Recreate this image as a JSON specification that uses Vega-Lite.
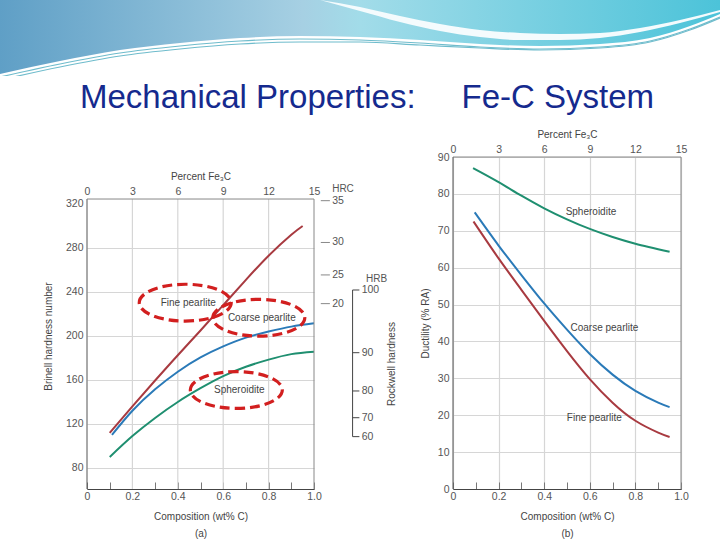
{
  "$schema": "https://vega.github.io/schema/vega-lite/v6.json",
  "background": "white",
  "padding": 0,
  "spacing": 14,
  "config": {
    "view": {"stroke": null},
    "font": "Liberation Sans",
    "axis": {
      "labelFont": "Liberation Sans", "labelFontSize": 10.5, "labelColor": "#555",
      "titleFont": "Liberation Sans", "titleFontSize": 10, "titleFontWeight": "normal", "titleColor": "#444",
      "domainColor": "#555", "tickColor": "#777", "gridColor": "#d6d6d6", "gridWidth": 1.2
    },
    "text": {"font": "Liberation Sans", "fontSize": 10, "color": "#444"}
  },
  "datasets": {
    "wave": [
      {"part": "band", "along": 0, "upper": 0, "lower": 74},
      {"part": "band", "along": 60, "upper": 0, "lower": 61},
      {"part": "band", "along": 120, "upper": 0, "lower": 50},
      {"part": "band", "along": 180, "upper": 0, "lower": 43},
      {"part": "band", "along": 240, "upper": 0, "lower": 38},
      {"part": "band", "along": 300, "upper": 0, "lower": 36},
      {"part": "band", "along": 360, "upper": 0, "lower": 37},
      {"part": "band", "along": 420, "upper": 0, "lower": 40},
      {"part": "band", "along": 480, "upper": 0, "lower": 44},
      {"part": "band", "along": 540, "upper": 0, "lower": 46},
      {"part": "band", "along": 600, "upper": 0, "lower": 44},
      {"part": "band", "along": 650, "upper": 0, "lower": 38},
      {"part": "band", "along": 690, "upper": 0, "lower": 26},
      {"part": "band", "along": 720, "upper": 0, "lower": 14},
      {"part": "swoosh", "along": 320, "upper": 0, "lower": 0},
      {"part": "swoosh", "along": 360, "upper": 7, "lower": 11},
      {"part": "swoosh", "along": 400, "upper": 16, "lower": 22},
      {"part": "swoosh", "along": 440, "upper": 24, "lower": 31},
      {"part": "swoosh", "along": 480, "upper": 30, "lower": 37},
      {"part": "swoosh", "along": 520, "upper": 33, "lower": 40},
      {"part": "swoosh", "along": 560, "upper": 34, "lower": 40},
      {"part": "swoosh", "along": 600, "upper": 33, "lower": 38},
      {"part": "swoosh", "along": 640, "upper": 28, "lower": 32},
      {"part": "swoosh", "along": 680, "upper": 20, "lower": 23},
      {"part": "swoosh", "along": 720, "upper": 10, "lower": 12},
      {"part": "line1", "along": 0, "upper": 77},
      {"part": "line1", "along": 60, "upper": 64},
      {"part": "line1", "along": 120, "upper": 53},
      {"part": "line1", "along": 180, "upper": 46},
      {"part": "line1", "along": 240, "upper": 41},
      {"part": "line1", "along": 300, "upper": 39},
      {"part": "line1", "along": 360, "upper": 40},
      {"part": "line1", "along": 420, "upper": 43},
      {"part": "line1", "along": 480, "upper": 47},
      {"part": "line1", "along": 540, "upper": 49},
      {"part": "line1", "along": 600, "upper": 47},
      {"part": "line1", "along": 650, "upper": 41},
      {"part": "line1", "along": 690, "upper": 29},
      {"part": "line1", "along": 720, "upper": 17},
      {"part": "line2", "along": 0, "upper": 80},
      {"part": "line2", "along": 60, "upper": 67},
      {"part": "line2", "along": 120, "upper": 56},
      {"part": "line2", "along": 180, "upper": 49},
      {"part": "line2", "along": 240, "upper": 44},
      {"part": "line2", "along": 300, "upper": 42},
      {"part": "line2", "along": 360, "upper": 42},
      {"part": "line2", "along": 420, "upper": 45},
      {"part": "line2", "along": 480, "upper": 48},
      {"part": "line2", "along": 540, "upper": 50},
      {"part": "line2", "along": 600, "upper": 48},
      {"part": "line2", "along": 650, "upper": 42},
      {"part": "line2", "along": 690, "upper": 30},
      {"part": "line2", "along": 720, "upper": 18}
    ],
    "hardness": [
      {"structure": "Fine pearlite", "c": 0.1, "hb": 112},
      {"structure": "Fine pearlite", "c": 0.2, "hb": 136},
      {"structure": "Fine pearlite", "c": 0.3, "hb": 159.5},
      {"structure": "Fine pearlite", "c": 0.4, "hb": 182.5},
      {"structure": "Fine pearlite", "c": 0.5, "hb": 205},
      {"structure": "Fine pearlite", "c": 0.6, "hb": 228},
      {"structure": "Fine pearlite", "c": 0.7, "hb": 251},
      {"structure": "Fine pearlite", "c": 0.8, "hb": 273},
      {"structure": "Fine pearlite", "c": 0.9, "hb": 292},
      {"structure": "Fine pearlite", "c": 0.95, "hb": 300},
      {"structure": "Coarse pearlite", "c": 0.11, "hb": 110},
      {"structure": "Coarse pearlite", "c": 0.2, "hb": 132},
      {"structure": "Coarse pearlite", "c": 0.3, "hb": 151.5},
      {"structure": "Coarse pearlite", "c": 0.4, "hb": 167.5},
      {"structure": "Coarse pearlite", "c": 0.5, "hb": 180.5},
      {"structure": "Coarse pearlite", "c": 0.6, "hb": 190.5},
      {"structure": "Coarse pearlite", "c": 0.7, "hb": 198.5},
      {"structure": "Coarse pearlite", "c": 0.8, "hb": 204},
      {"structure": "Coarse pearlite", "c": 0.9, "hb": 208.5},
      {"structure": "Coarse pearlite", "c": 1.0, "hb": 211.5},
      {"structure": "Spheroidite", "c": 0.1, "hb": 90},
      {"structure": "Spheroidite", "c": 0.2, "hb": 109},
      {"structure": "Spheroidite", "c": 0.3, "hb": 125.5},
      {"structure": "Spheroidite", "c": 0.4, "hb": 140},
      {"structure": "Spheroidite", "c": 0.5, "hb": 152.5},
      {"structure": "Spheroidite", "c": 0.6, "hb": 163.5},
      {"structure": "Spheroidite", "c": 0.7, "hb": 172},
      {"structure": "Spheroidite", "c": 0.8, "hb": 178.5},
      {"structure": "Spheroidite", "c": 0.9, "hb": 183.5},
      {"structure": "Spheroidite", "c": 1.0, "hb": 185.7}
    ],
    "ductility": [
      {"structure": "Fine pearlite", "c": 0.09, "ra": 72.5},
      {"structure": "Fine pearlite", "c": 0.2, "ra": 62.5},
      {"structure": "Fine pearlite", "c": 0.3, "ra": 54},
      {"structure": "Fine pearlite", "c": 0.4, "ra": 45.6},
      {"structure": "Fine pearlite", "c": 0.5, "ra": 37.4},
      {"structure": "Fine pearlite", "c": 0.6, "ra": 29.8},
      {"structure": "Fine pearlite", "c": 0.7, "ra": 23.4},
      {"structure": "Fine pearlite", "c": 0.8, "ra": 18.5},
      {"structure": "Fine pearlite", "c": 0.9, "ra": 15.3},
      {"structure": "Fine pearlite", "c": 0.95, "ra": 14.1},
      {"structure": "Coarse pearlite", "c": 0.095, "ra": 75},
      {"structure": "Coarse pearlite", "c": 0.2, "ra": 66},
      {"structure": "Coarse pearlite", "c": 0.3, "ra": 58},
      {"structure": "Coarse pearlite", "c": 0.4, "ra": 50.3},
      {"structure": "Coarse pearlite", "c": 0.5, "ra": 43.2},
      {"structure": "Coarse pearlite", "c": 0.6, "ra": 36.6},
      {"structure": "Coarse pearlite", "c": 0.7, "ra": 31},
      {"structure": "Coarse pearlite", "c": 0.8, "ra": 26.6},
      {"structure": "Coarse pearlite", "c": 0.9, "ra": 23.4},
      {"structure": "Coarse pearlite", "c": 0.95, "ra": 22.2},
      {"structure": "Spheroidite", "c": 0.088, "ra": 87},
      {"structure": "Spheroidite", "c": 0.2, "ra": 83.2},
      {"structure": "Spheroidite", "c": 0.3, "ra": 79.5},
      {"structure": "Spheroidite", "c": 0.4, "ra": 76.1},
      {"structure": "Spheroidite", "c": 0.5, "ra": 73.1},
      {"structure": "Spheroidite", "c": 0.6, "ra": 70.5},
      {"structure": "Spheroidite", "c": 0.7, "ra": 68.3},
      {"structure": "Spheroidite", "c": 0.8, "ra": 66.5},
      {"structure": "Spheroidite", "c": 0.95, "ra": 64.3}
    ],
    "labelsA": [
      {"structure": "Fine pearlite", "c": 0.446, "hb": 230.3},
      {"structure": "Coarse pearlite", "c": 0.77, "hb": 216.6},
      {"structure": "Spheroidite", "c": 0.671, "hb": 150.9}
    ],
    "labelsB": [
      {"structure": "Spheroidite", "c": 0.605, "ra": 75},
      {"structure": "Coarse pearlite", "c": 0.664, "ra": 43.7},
      {"structure": "Fine pearlite", "c": 0.62, "ra": 19.2}
    ],
    "rockwell": [
      {"scale": "HRC", "value": 35, "hb": 323},
      {"scale": "HRC", "value": 30, "hb": 285},
      {"scale": "HRC", "value": 25, "hb": 255.5},
      {"scale": "HRC", "value": 20, "hb": 229.4},
      {"scale": "HRB", "value": 100, "hb": 241.8},
      {"scale": "HRB", "value": 90, "hb": 184.8},
      {"scale": "HRB", "value": 80, "hb": 150},
      {"scale": "HRB", "value": 70, "hb": 125.7},
      {"scale": "HRB", "value": 60, "hb": 108.5}
    ]
  },
  "vconcat": [
    {
      "width": 720,
      "height": 76,
      "title": {
        "text": "Mechanical Properties:\u00a0\u00a0\u00a0\u00a0\u00a0Fe-C System",
        "orient": "bottom", "anchor": "middle", "offset": 6, "dx": 7,
        "font": "Liberation Sans", "fontSize": 33, "fontWeight": "normal", "color": "#152a8e"
      },
      "data": {"name": "wave"},
      "layer": [
        {
          "transform": [{"filter": "datum.part == 'band'"}],
          "mark": {
            "type": "area", "clip": true, "interpolate": "monotone",
            "color": {
              "gradient": "linear", "x1": 0, "y1": 0, "x2": 1, "y2": 0,
              "stops": [
                {"offset": 0, "color": "#5f9fc6"},
                {"offset": 0.42, "color": "#a6d0e3"},
                {"offset": 0.5, "color": "#a2dce9"},
                {"offset": 1, "color": "#4cc3d9"}
              ]
            }
          },
          "encoding": {
            "x": {"field": "along", "type": "quantitative", "scale": {"domain": [0, 720]}, "axis": null},
            "y": {"field": "upper", "type": "quantitative", "scale": {"domain": [0, 76], "reverse": true}, "axis": null},
            "y2": {"field": "lower"}
          }
        },
        {
          "transform": [{"filter": "datum.part == 'swoosh'"}],
          "mark": {"type": "area", "clip": true, "interpolate": "monotone", "color": "#f4fbfd"},
          "encoding": {
            "x": {"field": "along", "type": "quantitative", "scale": {"domain": [0, 720]}, "axis": null},
            "y": {"field": "upper", "type": "quantitative", "scale": {"domain": [0, 76], "reverse": true}, "axis": null},
            "y2": {"field": "lower"}
          }
        },
        {
          "transform": [{"filter": "datum.part == 'line1' || datum.part == 'line2'"}],
          "mark": {"type": "line", "clip": true, "interpolate": "monotone", "color": "#6fbccc", "strokeWidth": 1.2},
          "encoding": {
            "x": {"field": "along", "type": "quantitative", "scale": {"domain": [0, 720]}, "axis": null},
            "y": {"field": "upper", "type": "quantitative", "scale": {"domain": [0, 76], "reverse": true}, "axis": null},
            "detail": {"field": "part"}
          }
        }
      ]
    },
    {
      "spacing": 23,
      "hconcat": [
        {
          "width": 20, "height": 1,
          "data": {"values": [{}]},
          "mark": {"type": "text", "text": ""}
        },
        {
          "width": 227, "height": 332,
          "resolve": {"axis": {"x": "independent", "y": "independent"}},
          "layer": [
            {
              "data": {"values": [{"c": 0.2}, {"c": 0.4}, {"c": 0.6}, {"c": 0.8}]},
              "mark": {"type": "rule", "color": "#d6d6d6", "strokeWidth": 1.2},
              "encoding": {
                "x": {"field": "c", "type": "quantitative", "scale": {"domain": [0, 1]}, "axis": null},
                "y": {"datum": 60.9, "type": "quantitative", "scale": {"domain": [60.9, 362.7]}, "axis": null},
                "y2": {"datum": 324.5}
              }
            },
            {
              "data": {"name": "hardness"},
              "mark": {"type": "line", "interpolate": "natural", "strokeWidth": 2},
              "encoding": {
                "x": {
                  "field": "c", "type": "quantitative", "scale": {"domain": [0, 1]},
                  "axis": {
                    "orient": "bottom", "values": [0, 0.1, 0.2, 0.3, 0.4, 0.5, 0.6, 0.7, 0.8, 0.9, 1],
                    "labelExpr": "round(datum.value*10) % 2 == 0 ? (datum.value == 0 ? '0' : format(datum.value, '.1f')) : ''",
                    "tickSize": -7, "labelPadding": 9, "labelFlush": false, "labelOverlap": false, "grid": false,
                    "domainColor": "#444", "title": ["Composition (wt% C)", "(a)"], "titlePadding": 10, "titleLineHeight": 17
                  }
                },
                "y": {
                  "field": "hb", "type": "quantitative", "scale": {"domain": [60.9, 362.7]},
                  "axis": {
                    "orient": "left", "values": [80, 120, 160, 200, 240, 280, 320], "grid": true,
                    "gridOpacity": {"condition": {"test": "datum.value > 300", "value": 0}, "value": 1},
                    "ticks": false, "domain": false, "labelPadding": 4, "labelOverlap": false,
                    "title": "Brinell hardness number", "titlePadding": 12, "titleY": 179
                  }
                },
                "color": {
                  "field": "structure", "type": "nominal", "legend": null,
                  "scale": {"domain": ["Fine pearlite", "Coarse pearlite", "Spheroidite"], "range": ["#a83a40", "#2a7ab8", "#1f8f70"]}
                }
              }
            },
            {
              "data": {"values": [{}]},
              "mark": {"type": "rule", "color": "#555", "strokeWidth": 1},
              "encoding": {
                "x": {"datum": 0, "type": "quantitative", "scale": {"domain": [0, 1]}, "axis": null},
                "y": {"datum": 60.9, "type": "quantitative", "scale": {"domain": [60.9, 362.7]}, "axis": null},
                "y2": {"datum": 324.5}
              }
            },
            {
              "data": {"values": [{}]},
              "mark": {"type": "rule", "color": "#888", "strokeWidth": 1},
              "encoding": {
                "x": {"datum": 1, "type": "quantitative", "scale": {"domain": [0, 1]}, "axis": null},
                "y": {"datum": 60.9, "type": "quantitative", "scale": {"domain": [60.9, 362.7]}, "axis": null},
                "y2": {"datum": 324.5}
              }
            },
            {
              "data": {"values": [{}]},
              "mark": {"type": "rule", "color": "#888", "strokeWidth": 1},
              "encoding": {
                "x": {
                  "datum": 0, "type": "quantitative", "scale": {"domain": [0, 1]},
                  "axis": {
                    "orient": "top", "offset": -42, "values": [0, 0.2, 0.4, 0.6, 0.8, 1],
                    "labelExpr": "'' + round(datum.value*15)", "ticks": false, "domain": false, "grid": false,
                    "labelPadding": 3, "labelFlush": false, "labelOverlap": false,
                    "title": "Percent Fe₃C", "titlePadding": 5
                  }
                },
                "x2": {"datum": 1},
                "y": {"datum": 324.5, "type": "quantitative", "scale": {"domain": [60.9, 362.7]}, "axis": null}
              }
            },
            {
              "data": {"name": "labelsA"},
              "mark": {
                "type": "point", "shape": "M-1,0A1,0.4,0,1,1,1,0A1,0.4,0,1,1,-1,0Z", "size": 8464,
                "filled": false, "color": "#d21f1f", "strokeWidth": 3.2, "strokeDash": [10, 5], "opacity": 1, "xOffset": -3
              },
              "encoding": {
                "x": {"field": "c", "type": "quantitative", "scale": {"domain": [0, 1]}, "axis": null},
                "y": {"field": "hb", "type": "quantitative", "scale": {"domain": [60.9, 362.7]}, "axis": null}
              }
            },
            {
              "data": {"name": "labelsA"},
              "mark": {"type": "text", "fontSize": 10, "color": "#444"},
              "encoding": {
                "x": {"field": "c", "type": "quantitative", "scale": {"domain": [0, 1]}, "axis": null},
                "y": {"field": "hb", "type": "quantitative", "scale": {"domain": [60.9, 362.7]}, "axis": null},
                "text": {"field": "structure"}
              }
            },
            {
              "data": {"name": "rockwell"},
              "transform": [{"filter": "datum.scale == 'HRC'"}],
              "mark": {"type": "rule", "color": "#888", "strokeWidth": 1},
              "encoding": {
                "x": {"datum": 1.03, "type": "quantitative", "scale": {"domain": [0, 1]}, "axis": null},
                "x2": {"datum": 1.07},
                "y": {"field": "hb", "type": "quantitative", "scale": {"domain": [60.9, 362.7]}, "axis": null}
              }
            },
            {
              "data": {"name": "rockwell"},
              "transform": [{"filter": "datum.scale == 'HRC'"}],
              "mark": {"type": "text", "align": "left", "baseline": "middle", "fontSize": 10.5, "color": "#555"},
              "encoding": {
                "x": {"datum": 1.08, "type": "quantitative", "scale": {"domain": [0, 1]}, "axis": null},
                "y": {"field": "hb", "type": "quantitative", "scale": {"domain": [60.9, 362.7]}, "axis": null},
                "text": {"field": "value"}
              }
            },
            {
              "data": {"name": "rockwell"},
              "transform": [{"filter": "datum.scale == 'HRB'"}],
              "mark": {"type": "rule", "color": "#444", "strokeWidth": 1},
              "encoding": {
                "x": {"datum": 1.17, "type": "quantitative", "scale": {"domain": [0, 1]}, "axis": null},
                "y": {"aggregate": "min", "field": "hb", "type": "quantitative", "scale": {"domain": [60.9, 362.7]}, "axis": null},
                "y2": {"aggregate": "max", "field": "hb"}
              }
            },
            {
              "data": {"name": "rockwell"},
              "transform": [{"filter": "datum.scale == 'HRB'"}],
              "mark": {"type": "rule", "color": "#444", "strokeWidth": 1},
              "encoding": {
                "x": {"datum": 1.17, "type": "quantitative", "scale": {"domain": [0, 1]}, "axis": null},
                "x2": {"datum": 1.2},
                "y": {"field": "hb", "type": "quantitative", "scale": {"domain": [60.9, 362.7]}, "axis": null}
              }
            },
            {
              "data": {"name": "rockwell"},
              "transform": [{"filter": "datum.scale == 'HRB'"}],
              "mark": {"type": "text", "align": "left", "baseline": "middle", "fontSize": 10.5, "color": "#555"},
              "encoding": {
                "x": {"datum": 1.21, "type": "quantitative", "scale": {"domain": [0, 1]}, "axis": null},
                "y": {"field": "hb", "type": "quantitative", "scale": {"domain": [60.9, 362.7]}, "axis": null},
                "text": {"field": "value"}
              }
            },
            {
              "data": {"values": [{}]},
              "mark": {"type": "text", "align": "left", "baseline": "middle", "fontSize": 10, "color": "#555"},
              "encoding": {
                "x": {"datum": 1.08, "type": "quantitative", "scale": {"domain": [0, 1]}, "axis": null},
                "y": {"datum": 333.6, "type": "quantitative", "scale": {"domain": [60.9, 362.7]}, "axis": null},
                "text": {"value": "HRC"}
              }
            },
            {
              "data": {"values": [{}]},
              "mark": {"type": "text", "align": "left", "baseline": "middle", "fontSize": 10, "color": "#555"},
              "encoding": {
                "x": {"datum": 1.229, "type": "quantitative", "scale": {"domain": [0, 1]}, "axis": null},
                "y": {"datum": 251.8, "type": "quantitative", "scale": {"domain": [60.9, 362.7]}, "axis": null},
                "text": {"value": "HRB"}
              }
            },
            {
              "data": {"values": [{}]},
              "mark": {"type": "text", "angle": 270, "align": "center", "baseline": "middle", "fontSize": 10, "color": "#444"},
              "encoding": {
                "x": {"datum": 1.342, "type": "quantitative", "scale": {"domain": [0, 1]}, "axis": null},
                "y": {"datum": 174.5, "type": "quantitative", "scale": {"domain": [60.9, 362.7]}, "axis": null},
                "text": {"value": "Rockwell hardness"}
              }
            }
          ]
        },
        {
          "width": 228, "height": 332,
          "resolve": {"axis": {"x": "independent", "y": "independent"}},
          "layer": [
            {
              "data": {"name": "ductility"},
              "mark": {"type": "line", "interpolate": "natural", "strokeWidth": 2},
              "encoding": {
                "x": {
                  "field": "c", "type": "quantitative", "scale": {"domain": [0, 1]},
                  "axis": {
                    "orient": "bottom", "values": [0, 0.1, 0.2, 0.3, 0.4, 0.5, 0.6, 0.7, 0.8, 0.9, 1],
                    "labelExpr": "round(datum.value*10) % 2 == 0 ? (datum.value == 0 ? '0' : format(datum.value, '.1f')) : ''",
                    "tickSize": -7, "labelPadding": 9, "labelFlush": false, "labelOverlap": false, "grid": false,
                    "domainColor": "#444", "title": ["Composition (wt% C)", "(b)"], "titlePadding": 10, "titleLineHeight": 17
                  }
                },
                "y": {
                  "field": "ra", "type": "quantitative", "scale": {"domain": [0, 90]},
                  "axis": {
                    "orient": "left", "values": [0, 10, 20, 30, 40, 50, 60, 70, 80, 90], "grid": true,
                    "ticks": false, "domain": false, "labelPadding": 4, "labelOverlap": false,
                    "title": "Ductility (% RA)", "titlePadding": 7
                  }
                },
                "color": {
                  "field": "structure", "type": "nominal", "legend": null,
                  "scale": {"domain": ["Fine pearlite", "Coarse pearlite", "Spheroidite"], "range": ["#a83a40", "#2a7ab8", "#1f8f70"]}
                }
              }
            },
            {
              "data": {"name": "labelsB"},
              "mark": {"type": "text", "fontSize": 10, "color": "#444"},
              "encoding": {
                "x": {
                  "field": "c", "type": "quantitative", "scale": {"domain": [0, 1]},
                  "axis": {
                    "orient": "top", "values": [0, 0.2, 0.4, 0.6, 0.8, 1],
                    "labelExpr": "'' + round(datum.value*15)", "ticks": false, "domain": false, "grid": true,
                    "labelPadding": 3, "labelFlush": false, "labelOverlap": false,
                    "title": "Percent Fe₃C", "titlePadding": 5
                  }
                },
                "y": {"field": "ra", "type": "quantitative", "scale": {"domain": [0, 90]}, "axis": null},
                "text": {"field": "structure"}
              }
            },
            {
              "data": {"values": [{}]},
              "mark": {"type": "rule", "color": "#888", "strokeWidth": 1},
              "encoding": {
                "x": {"datum": 1, "type": "quantitative", "scale": {"domain": [0, 1]}, "axis": null},
                "y": {"datum": 0, "type": "quantitative", "scale": {"domain": [0, 90]}, "axis": null},
                "y2": {"datum": 90}
              }
            },
            {
              "data": {"values": [{}]},
              "mark": {"type": "rule", "color": "#888", "strokeWidth": 1},
              "encoding": {
                "x": {"datum": 0, "type": "quantitative", "scale": {"domain": [0, 1]}, "axis": null},
                "x2": {"datum": 1},
                "y": {"datum": 90, "type": "quantitative", "scale": {"domain": [0, 90]}, "axis": null}
              }
            },
            {
              "data": {"values": [{}]},
              "mark": {"type": "rule", "color": "#555", "strokeWidth": 1},
              "encoding": {
                "x": {"datum": 0, "type": "quantitative", "scale": {"domain": [0, 1]}, "axis": null},
                "y": {"datum": 0, "type": "quantitative", "scale": {"domain": [0, 90]}, "axis": null},
                "y2": {"datum": 90}
              }
            }
          ]
        }
      ]
    }
  ]
}
